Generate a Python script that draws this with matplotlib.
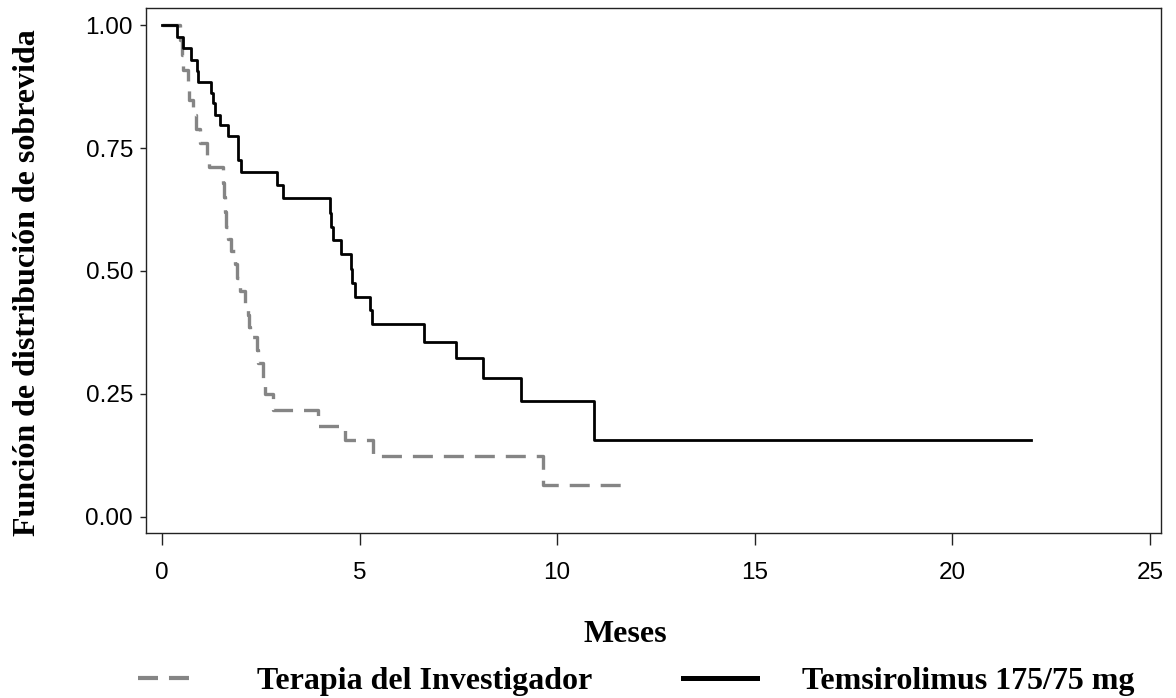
import matplotlib
matplotlib.use("Agg")
import matplotlib.pyplot as plt
from matplotlib.lines import Line2D

# ---- data ----
temsi_t = [0, 0.38, 0.53, 0.73, 0.89, 0.90, 1.24, 1.29, 1.34, 1.47, 1.67, 1.92, 1.93,
           2.00, 2.91, 3.06, 4.25, 4.27, 4.33, 4.52, 4.78, 4.80, 4.88, 5.26, 5.31,
           6.63, 7.44, 8.12, 9.08, 10.93, 22.0]
temsi_s = [1.0, 0.977, 0.953, 0.929, 0.906, 0.884, 0.862, 0.841, 0.817, 0.797, 0.774, 0.75, 0.725,
           0.701, 0.675, 0.648, 0.618, 0.589, 0.563, 0.535, 0.505, 0.475, 0.447, 0.42, 0.392,
           0.356, 0.323, 0.283, 0.236, 0.157, 0.157]

inv_t = [0, 0.45, 0.50, 0.53, 0.66, 0.68, 0.78, 0.85, 0.96, 1.14, 1.20, 1.55, 1.58, 1.60,
         1.62, 1.68, 1.75, 1.85, 1.90, 1.97, 2.10, 2.18, 2.20, 2.22, 2.40, 2.42, 2.55, 2.60,
         2.81, 3.95, 4.63, 5.34, 9.64, 11.72]
inv_s = [1.0, 0.97, 0.94, 0.909, 0.879, 0.848, 0.818, 0.788, 0.76, 0.735, 0.711, 0.68, 0.65, 0.62,
         0.59, 0.565, 0.54, 0.515, 0.486, 0.46, 0.435, 0.41, 0.386, 0.366, 0.34, 0.313, 0.274, 0.25,
         0.217, 0.185, 0.157, 0.124, 0.065, 0.065]

x_ticks = [0, 5, 10, 15, 20, 25]
y_ticks = [0.0, 0.25, 0.50, 0.75, 1.00]
y_tick_labels = ["0.00", "0.25", "0.50", "0.75", "1.00"]

label_inv = "Terapia del Investigador"
label_temsi = "Temsirolimus 175/75 mg"
xlabel = "Meses"
ylabel = "Función de distribución de sobrevida"

# ---- figure ----
plt.rcParams["lines.scale_dashes"] = False
W, H = 1176, 698
fig = plt.figure(figsize=(W / 100, H / 100), dpi=100)
ax = fig.add_axes([146 / W, 1 - 533 / H, (1161 - 146) / W, (533 - 8) / H])

gray = "#858585"
ax.step(inv_t, inv_s, where="post", color=gray, lw=2.4,
        dashes=(14.4, 7.9), dash_capstyle="butt")
ax.step(temsi_t, temsi_s, where="post", color="black", lw=2.0)

ax.set_xlim(-0.405, 25.28)
ax.set_ylim(-0.033, 1.035)
ax.set_xticks(x_ticks)
ax.set_yticks(y_ticks)
ax.set_yticklabels(y_tick_labels)

for sp in ax.spines.values():
    sp.set_linewidth(1.0)
    sp.set_color("#222222")

ax.tick_params(axis="x", direction="out", length=8.5, width=1.0, pad=12.5, color="#222222")
ax.tick_params(axis="y", direction="out", length=4.3, width=1.0, pad=5.0, color="#222222")
for lab in ax.get_xticklabels() + ax.get_yticklabels():
    lab.set_fontfamily("Liberation Sans")
    lab.set_fontsize(17.5)

serif = {"family": "Liberation Serif", "weight": "bold", "size": 23}
fig.text(625 / W, 1 - 642 / H, xlabel, ha="center", va="baseline", **serif)
fig.text(28 / W, 1 - 283 / H, ylabel, rotation=90, ha="center", va="center", **serif)

h1 = Line2D([], [], color=gray, lw=3.0, dashes=(14.4, 7.9, 14.4, 16.6), dash_capstyle="butt")
h2 = Line2D([], [], color="black", lw=3.6)
fig.legend([h1, h2], [label_inv, label_temsi], loc="center left",
           bbox_to_anchor=(138 / W, 1 - 681 / H), ncol=2, frameon=False,
           prop={"family": "Liberation Serif", "weight": "bold", "size": 23},
           handlelength=2.31, handletextpad=1.4, columnspacing=2.87,
           borderpad=0, borderaxespad=0)

fig.savefig("out.png", dpi=100)
